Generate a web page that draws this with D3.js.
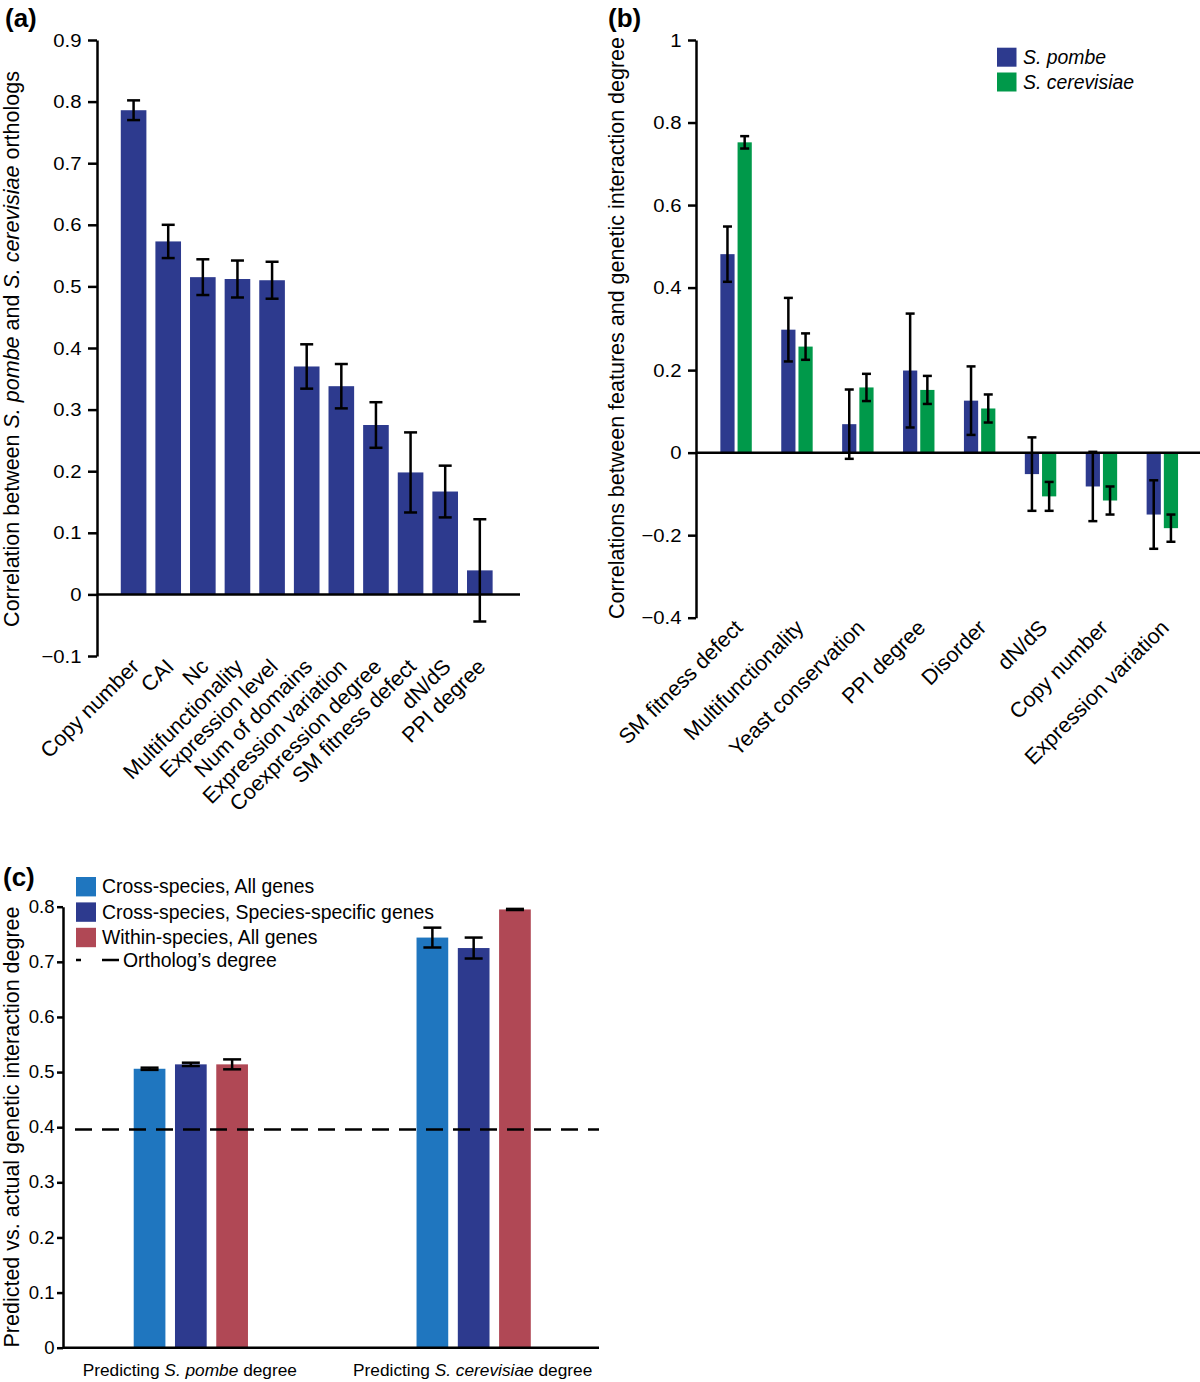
<!DOCTYPE html>
<html><head><meta charset="utf-8">
<script src="https://cdn.jsdelivr.net/npm/d3@7"></script>
<style>
body{margin:0;background:#fff}
svg{display:block}
text{font-family:"Liberation Sans",Arial,Helvetica,sans-serif;fill:#000}
</style>
</head><body>
<svg id="chart" width="1200" height="1382"></svg>
<script>
// ---------- Panel (a) data ----------
const aCategories = ["Copy number","CAI","Nc","Multifunctionality","Expression level","Num of domains","Expression variation","Coexpression degree","SM fitness defect","dN/dS","PPI degree"];
const aValues = [0.786,0.573,0.515,0.512,0.510,0.370,0.338,0.275,0.198,0.167,0.039];
const aErrors = [0.016,0.027,0.029,0.030,0.030,0.036,0.036,0.037,0.065,0.042,0.083];
const aTicks = [-0.1,0,0.1,0.2,0.3,0.4,0.5,0.6,0.7,0.8,0.9];

// ---------- Panel (b) data ----------
const bCategories = ["SM fitness defect","Multifunctionality","Yeast conservation","PPI degree","Disorder","dN/dS","Copy number","Expression variation"];
const bSeries = ["S. pombe","S. cerevisiae"];
const bPombe = [0.481,0.298,0.069,0.199,0.126,-0.052,-0.082,-0.150];
const bPombeErr = [0.067,0.077,0.084,0.138,0.083,0.089,0.084,0.083];
const bCerevisiae = [0.752,0.257,0.158,0.152,0.107,-0.106,-0.116,-0.183];
const bCerevisiaeErr = [0.015,0.032,0.033,0.034,0.034,0.035,0.034,0.033];
const bTicks = [-0.4,-0.2,0,0.2,0.4,0.6,0.8,1];

// ---------- Panel (c) data ----------
const cGroups = ["S. pombe","S. cerevisiae"];
const cSeries = ["Cross-species, All genes","Cross-species, Species-specific genes","Within-species, All genes"];
const cCrossAll = [0.506,0.744];
const cCrossAllErr = [0.002,0.018];
const cCrossSpecific = [0.514,0.725];
const cCrossSpecificErr = [0.003,0.019];
const cWithinAll = [0.514,0.795];
const cWithinAllErr = [0.009,0.001];
const cOrthologDegree = 0.396;
const cTicks = [0,0.1,0.2,0.3,0.4,0.5,0.6,0.7,0.8];

// ---------- styles ----------
const NAVY = "#2d3a8e", GREEN = "#00994a", LIGHT = "#1f76bf", RED = "#b04855";
const LBL = 21.5;    // rotated category labels
const YL = 21.5;     // axis titles
const svg = d3.select("#chart");

function fmt(d){
  if (d === 0) return "0";
  if (d === 1) return "1";
  const s = Math.abs(d).toFixed(1);
  return d < 0 ? "\u2212" + s : s;
}
function styleAxis(g, fs, sx){
  g.attr("font-family", null).attr("font-size", null);
  g.select(".domain").attr("stroke", "#000").attr("stroke-width", 2.5);
  g.selectAll(".tick line").attr("stroke", "#000").attr("stroke-width", 2.5);
  g.selectAll(".tick text").attr("font-size", fs).attr("fill", "#000")
    .each(function(){
      const t = d3.select(this);
      const x = +t.attr("x");
      t.attr("x", x / sx).attr("transform", `scale(${sx},1)`);
    });
}
function errorBar(g, x, y0, y1, cap){
  g.append("line").attr("x1", x).attr("x2", x).attr("y1", y0).attr("y2", y1);
  g.append("line").attr("x1", x - cap/2).attr("x2", x + cap/2).attr("y1", y0).attr("y2", y0);
  g.append("line").attr("x1", x - cap/2).attr("x2", x + cap/2).attr("y1", y1).attr("y2", y1);
}
function richText(sel, parts){
  parts.forEach(p => {
    const t = sel.append("tspan").text(p[0]);
    if (p[1]) t.attr("font-style", "italic");
  });
}

// ================= Panel (a) =================
{
  const yA = d3.scaleLinear().domain([-0.1, 0.9]).range([656, 40]);
  const xA = d3.scaleBand().domain(aCategories).range([100, 513.4]).paddingInner(0.26).paddingOuter(0.6);
  const g = svg.append("g");

  g.append("text").attr("x", 5).attr("y", 27).attr("font-size", 26).attr("font-weight", "bold").text("(a)");

  g.selectAll("rect.bar").data(aCategories).enter().append("rect")
    .attr("x", d => xA(d)).attr("width", xA.bandwidth())
    .attr("y", (d, i) => yA(Math.max(0, aValues[i])))
    .attr("height", (d, i) => Math.abs(yA(aValues[i]) - yA(0)))
    .attr("fill", NAVY);

  g.append("line").attr("x1", 97).attr("x2", 520).attr("y1", yA(0)).attr("y2", yA(0))
    .attr("stroke", "#000").attr("stroke-width", 2.5);

  const eb = g.append("g").attr("stroke", "#000").attr("stroke-width", 2.5);
  aCategories.forEach((c, i) => {
    errorBar(eb, xA(c) + xA.bandwidth()/2, yA(aValues[i] + aErrors[i]), yA(aValues[i] - aErrors[i]), 13);
  });

  const ax = g.append("g").attr("transform", "translate(97,0)")
    .call(d3.axisLeft(yA).tickValues(aTicks).tickFormat(fmt).tickSize(9).tickSizeOuter(0).tickPadding(6.5));
  styleAxis(ax, 19, 1.07);

  g.selectAll("text.xl").data(aCategories).enter().append("text")
    .attr("transform", d => `translate(${xA(d) + xA.bandwidth()/2 + 7},${668}) rotate(-45)`)
    .attr("text-anchor", "end").attr("font-size", LBL)
    .text(d => d);

  const yl = g.append("text").attr("transform", "translate(19,349) rotate(-90)")
    .attr("text-anchor", "middle").attr("font-size", YL);
  richText(yl, [["Correlation between ", false], ["S. pombe", true], [" and ", false], ["S. cerevisiae", true], [" orthologs", false]]);
}

// ================= Panel (b) =================
{
  const yB = d3.scaleLinear().domain([-0.4, 1]).range([617.7, 40]);
  const xB = d3.scaleBand().domain(bCategories).range([696, 1202.4]).paddingInner(0.484).paddingOuter(0.4);
  const xS = d3.scaleBand().domain(bSeries).range([0, xB.bandwidth()]).paddingInner(0.174);
  const vals = {"S. pombe": bPombe, "S. cerevisiae": bCerevisiae};
  const errs = {"S. pombe": bPombeErr, "S. cerevisiae": bCerevisiaeErr};
  const col = d3.scaleOrdinal().domain(bSeries).range([NAVY, GREEN]);
  const g = svg.append("g");

  g.append("text").attr("x", 608).attr("y", 27).attr("font-size", 26).attr("font-weight", "bold").text("(b)");

  const groups = g.selectAll("g.grp").data(bCategories).enter().append("g")
    .attr("transform", d => `translate(${xB(d)},0)`);
  groups.selectAll("rect").data((d, i) => bSeries.map(s => ({s, v: vals[s][i]}))).enter().append("rect")
    .attr("x", d => xS(d.s)).attr("width", xS.bandwidth())
    .attr("y", d => yB(Math.max(0, d.v)))
    .attr("height", d => Math.abs(yB(d.v) - yB(0)))
    .attr("fill", d => col(d.s));

  g.append("line").attr("x1", 696).attr("x2", 1200).attr("y1", yB(0)).attr("y2", yB(0))
    .attr("stroke", "#000").attr("stroke-width", 2.5);

  const eb = g.append("g").attr("stroke", "#000").attr("stroke-width", 2.5);
  bCategories.forEach((c, i) => {
    bSeries.forEach(s => {
      const x = xB(c) + xS(s) + xS.bandwidth()/2;
      errorBar(eb, x, yB(vals[s][i] + errs[s][i]), yB(vals[s][i] - errs[s][i]), 9);
    });
  });

  const ax = g.append("g").attr("transform", "translate(696,0)")
    .call(d3.axisLeft(yB).tickValues(bTicks).tickFormat(fmt).tickSize(8).tickSizeOuter(0).tickPadding(6.5));
  styleAxis(ax, 19, 1.07);

  g.selectAll("text.xl").data(bCategories).enter().append("text")
    .attr("transform", d => `translate(${xB(d) + xB.bandwidth()/2 + 8},${629}) rotate(-45)`)
    .attr("text-anchor", "end").attr("font-size", LBL)
    .text(d => d);

  g.append("text").attr("transform", "translate(624,328) rotate(-90)")
    .attr("text-anchor", "middle").attr("font-size", YL)
    .text("Correlations between features and genetic interaction degree");

  const lg = g.selectAll("g.leg").data(bSeries).enter().append("g")
    .attr("transform", (d, i) => `translate(997,${47.7 + i * 24.8})`);
  lg.append("rect").attr("width", 19.5).attr("height", 19).attr("fill", d => col(d));
  lg.append("text").attr("x", 26).attr("y", 16).attr("font-size", 19.4)
    .attr("font-style", "italic").text(d => d);
}

// ================= Panel (c) =================
{
  const yC = d3.scaleLinear().domain([0, 0.8]).range([1347.7, 906.7]);
  const xC = d3.scaleBand().domain(cGroups).range([63, 601.5]).paddingInner(0.596).paddingOuter(0.25);
  const xS = d3.scaleBand().domain(cSeries).range([0, xC.bandwidth()]).paddingInner(0.232);
  const vals = {[cSeries[0]]: cCrossAll, [cSeries[1]]: cCrossSpecific, [cSeries[2]]: cWithinAll};
  const errs = {[cSeries[0]]: cCrossAllErr, [cSeries[1]]: cCrossSpecificErr, [cSeries[2]]: cWithinAllErr};
  const col = d3.scaleOrdinal().domain(cSeries).range([LIGHT, NAVY, RED]);
  const g = svg.append("g");

  g.append("text").attr("x", 3).attr("y", 886).attr("font-size", 26).attr("font-weight", "bold").text("(c)");

  const groups = g.selectAll("g.grp").data(cGroups).enter().append("g")
    .attr("transform", d => `translate(${xC(d)},0)`);
  groups.selectAll("rect").data((d, i) => cSeries.map(s => ({s, v: vals[s][i]}))).enter().append("rect")
    .attr("x", d => xS(d.s)).attr("width", xS.bandwidth())
    .attr("y", d => yC(d.v))
    .attr("height", d => yC(0) - yC(d.v))
    .attr("fill", d => col(d.s));

  g.append("line").attr("x1", 75).attr("x2", 599)
    .attr("y1", yC(cOrthologDegree)).attr("y2", yC(cOrthologDegree))
    .attr("stroke", "#000").attr("stroke-width", 2.5).attr("stroke-dasharray", "17 10");

  const eb = g.append("g").attr("stroke", "#000").attr("stroke-width", 2.5);
  cGroups.forEach((c, i) => {
    cSeries.forEach(s => {
      const x = xC(c) + xS(s) + xS.bandwidth()/2;
      errorBar(eb, x, yC(vals[s][i] + errs[s][i]), yC(vals[s][i] - errs[s][i]), 18);
    });
  });

  g.append("line").attr("x1", 63).attr("x2", 599).attr("y1", yC(0)).attr("y2", yC(0))
    .attr("stroke", "#000").attr("stroke-width", 2.5);

  const ax = g.append("g").attr("transform", "translate(63,0)")
    .call(d3.axisLeft(yC).tickValues(cTicks).tickFormat(fmt).tickSize(6).tickSizeOuter(0).tickPadding(2.5));
  styleAxis(ax, 17.5, 1.06);

  const gl = g.selectAll("text.gl").data(cGroups).enter().append("text")
    .attr("x", d => xC(d) + xC.bandwidth()/2 - 1).attr("y", 1376)
    .attr("text-anchor", "middle").attr("font-size", 17.3);
  gl.each(function(d){
    richText(d3.select(this), [["Predicting ", false], [d, true], [" degree", false]]);
  });

  g.append("text").attr("transform", "translate(19,1127) rotate(-90)")
    .attr("text-anchor", "middle").attr("font-size", YL)
    .text("Predicted vs. actual genetic interaction degree");

  const lg = g.selectAll("g.leg").data(cSeries).enter().append("g")
    .attr("transform", (d, i) => `translate(76,${877 + i * 25.4})`);
  lg.append("rect").attr("width", 20).attr("height", 19.4).attr("fill", d => col(d));
  lg.append("text").attr("x", 26).attr("y", 16.3).attr("font-size", 19.4).text(d => d);

  const ol = g.append("g").attr("transform", "translate(76,960)");
  ol.append("line").attr("x1", 0).attr("x2", 43).attr("y1", 0).attr("y2", 0)
    .attr("stroke", "#000").attr("stroke-width", 2.5).attr("stroke-dasharray", "5 21 17 100");
  ol.append("text").attr("x", 47).attr("y", 7).attr("font-size", 19.4).text("Ortholog\u2019s degree");
}
</script>
</body></html>
